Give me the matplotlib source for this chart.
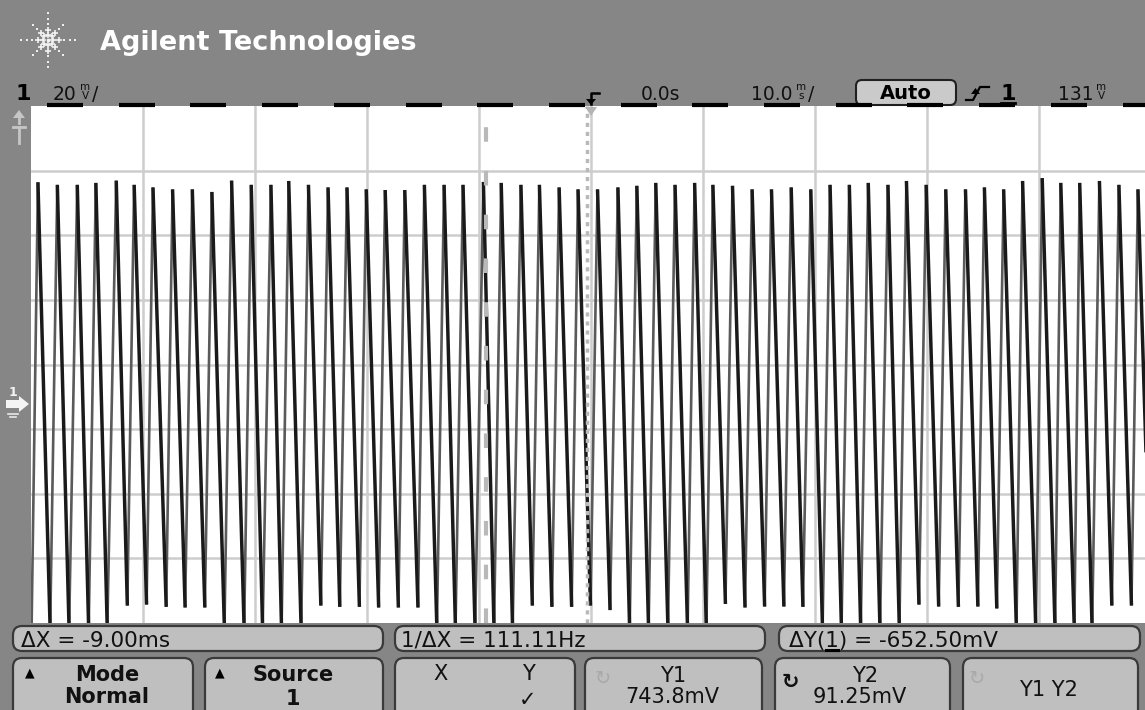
import numpy as np
import matplotlib
matplotlib.use("Agg")
import matplotlib.pyplot as plt
from matplotlib.patches import FancyBboxPatch, Polygon
from matplotlib.collections import LineCollection

W, H = 1145, 710

# ---------------- data read from the screen ----------------
# times of the trace minima (ms, relative to trigger) and their levels (mV)
trough_t_ms = [-49.95, -48.29, -46.60, -44.85, -43.19, -41.40, -39.68, -37.93, -36.24, -34.48,
               -32.73, -30.97, -29.32, -27.63, -25.88, -24.12, -22.43, -20.68, -18.96, -17.20,
               -15.45, -13.76, -12.10, -10.35, -8.66, -7.00, -5.24, -3.49, -1.73, -0.05,
               1.70, 3.45, 5.14, 6.87, 8.62, 10.30, 12.00, 13.75, 15.50, 17.22,
               18.92, 20.67, 22.36, 24.08, 25.80, 27.53, 29.28, 31.04, 32.80, 34.54,
               36.23, 37.98, 39.71, 41.43, 43.15, 44.74, 46.50, 48.25, 49.97]
trough_mv = [-72, -72, -72, -72, -72, -64.6, -64.3, -65.0, -65.2, -65.2,
             -72, -72, -72, -72, -72, -64.6, -65.0, -65.0, -65.2, -65.2,
             -65.2, -72, -72, -72, -72, -72, -64.6, -65.0, -65.0, -64.6,
             -66.0, -72, -72, -72, -72, -72, -64.1, -65.2, -64.9, -64.9,
             -65.0, -72, -72, -72, -72, -72, -64.3, -64.9, -65.0, -64.9,
             -65.5, -72, -72, -72, -72, -72, -64.6, -64.6, -64.8]
# times of the trace maxima (ms) and their levels (mV)
peak_t_ms = [-49.38, -47.65, -45.87, -44.21, -42.39, -40.79, -39.11, -37.36, -35.60, -33.85,
             -32.09, -30.34, -28.58, -26.99, -25.23, -23.48, -21.79, -20.07, -18.38, -16.63,
             -14.88, -13.12, -11.43, -9.61, -8.02, -6.26, -4.61, -2.85, -1.16, 0.58,
             2.40, 4.09, 5.78, 7.50, 9.25, 10.88, 12.63, 14.38, 16.11, 17.87,
             19.62, 21.34, 23.06, 24.75, 26.51, 28.16, 29.92, 31.67, 33.43, 35.12,
             36.84, 38.53, 40.28, 41.94, 43.63, 45.39, 47.13, 48.83]
peak_mv = [66.4, 65.6, 65.6, 66.2, 66.9, 65.6, 64.8, 64.2, 64.2, 63.4,
           66.9, 65.6, 65.6, 66.8, 65.6, 64.8, 64.8, 64.2, 64.0, 64.0,
           65.6, 65.6, 65.6, 66.5, 66.2, 65.6, 65.6, 64.8, 64.2, 64.2,
           64.8, 65.3, 66.2, 65.6, 66.2, 65.6, 65.3, 64.2, 64.2, 64.8,
           64.2, 65.6, 65.6, 66.2, 65.6, 66.8, 65.6, 64.2, 64.2, 64.8,
           64.2, 66.8, 67.7, 66.2, 66.2, 66.8, 65.6, 64.2]

ms_per_div = 10.0
mv_per_div = 20.0
screen_center_mv = 10.0
cursor_x1_ms = -0.4
cursor_x2_ms = -9.4

# ---------------- figure ----------------
BG = '#868686'
PANEL = '#bfbfbf'
EDGE = '#3a3a3a'

fig = plt.figure(figsize=(W / 100, H / 100), dpi=100)
fig.patch.set_facecolor(BG)


def px_rect(x0, y0, x1, y1):
    return [x0 / W, 1 - y1 / H, (x1 - x0) / W, (y1 - y0) / H]


# ---- graticule / trace axes ----
ax = fig.add_axes(px_rect(31, 106, 1145, 623))
ax.set_facecolor('white')
ax.set_xlim(-5 * ms_per_div, 49.46)
ax.set_ylim(screen_center_mv - 4 * mv_per_div, screen_center_mv + 4 * mv_per_div)
for s in ax.spines.values():
    s.set_visible(False)
ax.set_xticks([])
ax.set_yticks([])

for k in range(-4, 5):
    ax.axvline(k * ms_per_div, color='#cdcdcd', lw=1.8, zorder=1)
for k in range(-3, 4):
    ax.axhline(screen_center_mv + k * mv_per_div, color='#cdcdcd', lw=1.8, zorder=1)

tt = np.asarray(trough_t_ms, dtype=float)
tv = np.asarray(trough_mv, dtype=float)
pt = np.asarray(peak_t_ms, dtype=float)
pv = np.asarray(peak_mv, dtype=float)
n = len(pt)

rise_segs = [[(tt[i], tv[i]), (pt[i], pv[i])] for i in range(n)]
fall_segs = [[(pt[i], pv[i]), (tt[i + 1], tv[i + 1])] for i in range(n)]
ax.add_collection(LineCollection(rise_segs, colors='#5a5a5a', linewidths=1.9, zorder=3))
ax.add_collection(LineCollection(fall_segs, colors='#1a1a1a', linewidths=2.5, zorder=4))

# cursors
ax.axvline(cursor_x2_ms, color='#b9b9b9', lw=3, ls=(0, (3.5, 7)), zorder=5)
ax.axvline(cursor_x1_ms, color='#b9b9b9', lw=2.5, ls=(0, (1.2, 1.4)), zorder=5)

# ---- overlay in pixel coordinates ----
ov = fig.add_axes([0, 0, 1, 1])
ov.set_xlim(0, W)
ov.set_ylim(H, 0)
ov.axis('off')
ov.patch.set_alpha(0)

# Agilent spark logo
cx, cy = 48, 40
for ang in range(0, 360, 45):
    a = np.deg2rad(ang)
    rmax = 32 if ang % 90 == 0 else 27
    if ang % 180 == 90:
        rmax = 30
    radii = np.arange(5, rmax, 5.5)
    xs = cx + radii * np.cos(a)
    ys = cy + radii * np.sin(a)
    ov.scatter(xs[:2], ys[:2], marker='+', s=22, lw=1.2, color='#f2f2f2')
    ov.scatter(xs[2:], ys[2:], marker='s', s=3, lw=0, color='#eeeeee')
ov.scatter([cx], [cy], marker='s', s=4, color='#f2f2f2')

ov.text(100, 50, 'Agilent Technologies', color='white', fontsize=19.5,
        fontweight='bold', ha='left', va='baseline')

# status line
ov.text(16, 100, '1', color='black', fontsize=16, fontweight='bold', va='baseline')


def unit(x, label, y=101):
    ov.text(x, y, label, fontsize=7.5, color='#111111', ha='center', va='bottom',
            linespacing=0.85, multialignment='center')


ov.text(53, 100, '20', fontsize=13.5, color='#111111', va='baseline')
unit(85, 'm\nV')
ov.text(92, 100, '/', fontsize=13.5, color='#111111', va='baseline')

ov.text(641, 100, '0.0s', fontsize=13.5, color='#111111', va='baseline')
ov.text(751, 100, '10.0', fontsize=13.5, color='#111111', va='baseline')
unit(801, 'm\ns')
ov.text(808, 100, '/', fontsize=13.5, color='#111111', va='baseline')

ov.add_patch(FancyBboxPatch((856, 80), 100, 25, boxstyle='round,pad=0,rounding_size=6',
                            fc='#cacaca', ec='#202020', lw=1.5))
ov.text(906, 99, 'Auto', fontsize=14, fontweight='bold', color='black',
        ha='center', va='baseline')
# trigger slope symbol
ov.plot([966, 973, 980, 989], [100, 100, 87, 87], color='black', lw=1.6)
ov.add_patch(Polygon([[971, 94], [980, 94], [975.5, 88]], closed=True, fc='black', ec='none'))
ov.text(1008, 100, '1', fontsize=16, fontweight='bold', color='black', ha='center', va='baseline')
ov.plot([1001, 1015], [103, 103], color='black', lw=2)
ov.text(1058, 100, '131', fontsize=13.5, color='#111111', va='baseline')
unit(1101, 'm\nV')

# top border dashes
for k in range(16):
    x0 = 47 + 71.7 * k
    if x0 > W:
        break
    ov.plot([x0, min(x0 + 36, W)], [104.5, 104.5], color='black', lw=3, solid_capstyle='butt')

# trigger position marker
ov.plot([591, 591, 599], [104, 93, 93], color='black', lw=1.8)
ov.add_patch(Polygon([[586, 99], [596, 99], [591, 105]], closed=True, fc='black', ec='none'))
ov.add_patch(Polygon([[585, 107], [597, 107], [591, 116]], closed=True, fc='#b5b5b5', ec='none'))

# left strip markers
LG = '#c6c6c6'
ov.add_patch(Polygon([[13, 118], [25, 118], [19, 110]], closed=True, fc=LG, ec='none'))
ov.plot([19, 19], [118, 123], color=LG, lw=2)
ov.plot([13, 25], [127, 127], color=LG, lw=2)
ov.plot([19, 19], [127, 143], color=LG, lw=2)

ov.text(13, 396, '1', fontsize=9, fontweight='bold', color='#f4f4f4', ha='center', va='baseline')
ov.add_patch(Polygon([[6, 400], [19, 400], [19, 396], [29, 404], [19, 412], [19, 408], [6, 408]],
                     closed=True, fc='#f4f4f4', ec='none'))
ov.plot([8, 18], [414, 414], color='#e8e8e8', lw=1.2)
ov.plot([10, 16], [417, 417], color='#e8e8e8', lw=1.2)


# ---- bottom soft-key panels ----
def panel(x0, y0, x1, y1):
    ov.add_patch(FancyBboxPatch((x0, y0), x1 - x0, y1 - y0,
                                boxstyle='round,pad=0,rounding_size=9',
                                fc=PANEL, ec=EDGE, lw=1.6))


panel(13, 626, 383, 651)
panel(395, 626, 765, 651)
panel(779, 626, 1140, 651)
TS = 15.5
ov.text(21, 647, 'ΔX = -9.00ms', fontsize=TS, color='#111111', va='baseline')
ov.text(401, 647, '1/ΔX = 111.11Hz', fontsize=TS, color='#111111', va='baseline')
ov.text(789, 647, 'ΔY(1) = -652.50mV', fontsize=TS, color='#111111', va='baseline')

# underline the channel number inside ΔY(1)
fig.canvas.draw()
rend = fig.canvas.get_renderer()
probe = ov.text(789, 647, 'ΔY(', fontsize=TS, va='baseline')
bb0 = probe.get_window_extent(rend)
probe.set_text('ΔY(1')
bb1 = probe.get_window_extent(rend)
probe.remove()
ux0 = ov.transData.inverted().transform((bb0.x1, 0))[0]
ux1 = ov.transData.inverted().transform((bb1.x1, 0))[0]
ov.plot([ux0 + 1, ux1 - 1], [650, 650], color='black', lw=2.2)

for (x0, x1) in [(13, 193), (205, 383), (395, 575), (585, 762), (775, 950), (963, 1138)]:
    panel(x0, 658, x1, 720)

BS = 15
ov.text(30, 676, '▲', fontsize=9, color='black', ha='center', va='baseline')
ov.text(107, 681, 'Mode', fontsize=BS, fontweight='bold', color='#111111', ha='center', va='baseline')
ov.text(107, 703, 'Normal', fontsize=BS, fontweight='bold', color='#111111', ha='center', va='baseline')
ov.text(220, 676, '▲', fontsize=9, color='black', ha='center', va='baseline')
ov.text(293, 681, 'Source', fontsize=BS, fontweight='bold', color='#111111', ha='center', va='baseline')
ov.text(293, 705, '1', fontsize=BS, fontweight='bold', color='#111111', ha='center', va='baseline')
ov.text(440, 680, 'X', fontsize=BS, color='#111111', ha='center', va='baseline')
ov.text(528, 680, 'Y', fontsize=BS, color='#111111', ha='center', va='baseline')
ov.text(528, 706, '✓', fontsize=BS, color='#111111', ha='center', va='baseline')

ov.text(603, 684, '↻', fontsize=14, color='#a9a9a9', ha='center', va='baseline')
ov.text(673, 682, 'Y1', fontsize=BS, color='#111111', ha='center', va='baseline')
ov.text(672, 703, '743.8mV', fontsize=BS, color='#111111', ha='center', va='baseline')
ov.text(790, 688, '↻', fontsize=15, fontweight='bold', color='#111111', ha='center', va='baseline')
ov.text(865, 682, 'Y2', fontsize=BS, color='#111111', ha='center', va='baseline')
ov.text(860, 703, '91.25mV', fontsize=BS, color='#111111', ha='center', va='baseline')
ov.text(977, 684, '↻', fontsize=14, color='#a9a9a9', ha='center', va='baseline')
ov.text(1048, 696, 'Y1 Y2', fontsize=BS, color='#111111', ha='center', va='baseline')

fig.savefig('out.png', dpi=100, facecolor=BG)
